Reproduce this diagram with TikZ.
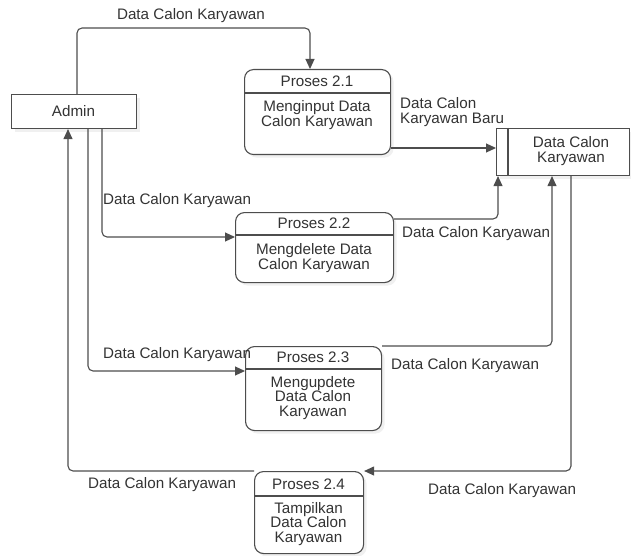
\documentclass[tikz,border=0pt]{standalone}
\usepackage{fontspec}
\setmainfont{Liberation Sans}
\usetikzlibrary{arrows.meta,shadows}
\definecolor{ink}{HTML}{4D4D4D}
\definecolor{txt}{HTML}{333333}
\begin{document}
\begin{tikzpicture}[x=1pt,y=-1pt,
  every node/.style={text=txt, font=\fontsize{15.2}{14.2}\selectfont, inner sep=0pt},
  boxshadow/.style={drop shadow={opacity=0.12, shadow xshift=3pt, shadow yshift=-3pt}},
  procbox/.style={draw=ink, line width=1.1pt, rounded corners=9pt, fill=white, boxshadow, anchor=north west},
  entity/.style={draw=ink, line width=1.1pt, fill=white, boxshadow, anchor=north west},
  divider/.style={draw=ink, line width=1.1pt},
  flow/.style={draw=ink, line width=1.1pt, rounded corners=5pt, -{Triangle[length=10pt,width=9pt]}},
  flowlabel/.style={align=center},
]
\useasboundingbox (0,0) rectangle (631,556);

% external entity
\node[entity, minimum width=125pt, minimum height=34pt] (admin) at (11,94) {};
\node (admintxt) at (73.5,111) {Admin};

% data store
\node[entity, minimum width=133pt, minimum height=47pt] (store) at (496,128) {};
\draw[divider] (508,128) -- (508,175);
\node[flowlabel] (storetxt) at (571,151) {Data Calon\\Karyawan};

% processes
\node[procbox, minimum width=146pt, minimum height=85pt] (p1) at (244,69) {};
\draw[divider] (p1.west |- 0,93) -- (p1.east |- 0,93);
\node (p1t) at (317,81) {Proses 2.1};
\node[flowlabel] (p1b) at (317,115) {Menginput Data\\Calon Karyawan};

\node[procbox, minimum width=158pt, minimum height=70pt] (p2) at (235,212) {};
\draw[divider] (p2.west |- 0,235) -- (p2.east |- 0,235);
\node (p2t) at (314,223) {Proses 2.2};
\node[flowlabel] (p2b) at (314,258) {Mengdelete Data\\Calon Karyawan};

\node[procbox, minimum width=136pt, minimum height=84pt] (p3) at (245,346) {};
\draw[divider] (p3.west |- 0,369) -- (p3.east |- 0,369);
\node (p3t) at (313,357) {Proses 2.3};
\node[flowlabel] (p3b) at (313,398) {Mengupdete\\Data Calon\\Karyawan};

\node[procbox, minimum width=109pt, minimum height=82pt] (p4) at (254,471) {};
\draw[divider] (p4.west |- 0,496) -- (p4.east |- 0,496);
\node (p4t) at (308.5,484) {Proses 2.4};
\node[flowlabel] (p4b) at (308.5,524) {Tampilkan\\Data Calon\\Karyawan};

% data flows from the entity
\draw[flow] (admin.north -| 77,0) -- (77,28) -- (310,28) -- (p1.north -| 310,0);
\node (l1) at (191,16) {Data Calon Karyawan};

\draw[flow] (admin.south -| 102,0) -- (102,237) -- (p2.west |- 0,237);
\node[anchor=west] (l2) at (103,201) {Data Calon Karyawan};

\draw[flow] (admin.south -| 88,0) -- (88,371) -- (p3.west |- 0,371);
\node[anchor=west] (l3) at (103,355) {Data Calon Karyawan};

\draw[flow] (p4.north west) -- (68,471) -- (admin.south -| 68,0);
\node[anchor=west] (l4) at (88,485) {Data Calon Karyawan};

% data flows to and from the store
\draw[flow] (p1.east |- 0,148) -- (store.west |- 0,148);
\node[flowlabel, align=left, anchor=west] (l5) at (400,112) {Data Calon\\Karyawan Baru};

\draw[flow] (p2.east |- 0,219) -- (498,219) -- (store.south -| 498,0);
\node[anchor=west] (l6) at (402,234) {Data Calon Karyawan};

\draw[flow] (p3.north east) -- (552,346) -- (store.south -| 552,0);
\node[anchor=west] (l7) at (391,366) {Data Calon Karyawan};

\draw[flow] (store.south -| 571,0) -- (571,471) -- (p4.north east);
\node[anchor=west] (l8) at (428,491) {Data Calon Karyawan};
\end{tikzpicture}
\end{document}
